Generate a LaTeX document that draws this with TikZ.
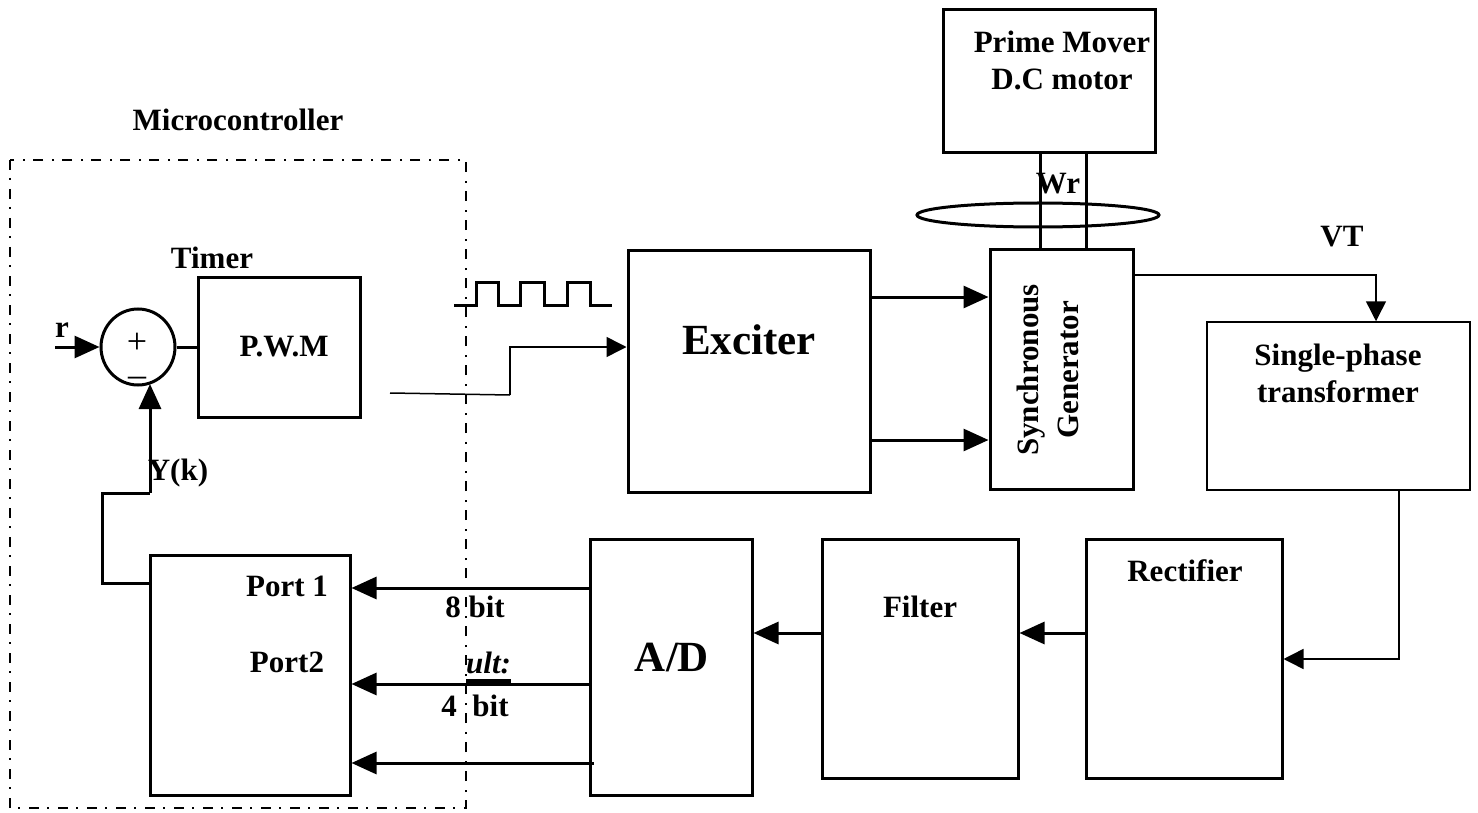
\documentclass[tikz,border=0pt]{standalone}
\usepackage{fontspec}
\setmainfont{Liberation Serif}
\usetikzlibrary{arrows.meta,calc,shapes.geometric}
\begin{document}
\begin{tikzpicture}[x=1pt,y=-1pt,
  blk/.style={draw,line width=3pt,inner sep=0pt},
  thinblk/.style={draw,line width=1.5pt,inner sep=0pt},
  lbl/.style={font=\fontsize{31}{37}\selectfont\bfseries,align=center,inner sep=0pt},
  big/.style={font=\fontsize{43}{48}\selectfont\bfseries,align=center,inner sep=0pt},
  arr/.style={line width=3pt,-{Triangle[length=25pt,width=22pt]}},
  tarr/.style={line width=1.5pt,-{Triangle[length=20pt,width=20pt]}},
  thk/.style={line width=3pt},
  thn/.style={line width=1.5pt},
  dashdotline/.style={line width=1.5pt,dash pattern=on 10pt off 8pt on 2pt off 9pt}]
\useasboundingbox (0,0) rectangle (1478,813);

% microcontroller border
\draw[dashdotline] (10,160) rectangle (466,808);
\node[lbl] (mctxt) at (238,120) {Microcontroller};

% blocks
\node[blk,ellipse,minimum width=74pt,minimum height=76pt] (sum) at (138,347) {};
\node[font=\fontsize{36}{33}\selectfont,align=center,inner sep=0pt] (signs) at (137,360) {+\\\textendash};
\node[blk,minimum width=162pt,minimum height=140pt] (pwm) at (279,347) {};
\node[lbl] (pwmt) at (284,347) {P.W.M};
\node[lbl] (timer) at (212,258) {Timer};
\node[blk,minimum width=200pt,minimum height=240pt] (port) at (250,675) {};
\node[lbl] (p1) at (287,586) {Port 1};
\node[lbl] (p2) at (287,662) {Port2};
\node[blk,minimum width=162pt,minimum height=256pt] (adc) at (671,667) {};
\node[big] (adct) at (672,658) {A/D};
\node[blk,minimum width=196pt,minimum height=239pt] (filt) at (920,658.5) {};
\node[lbl] (filtt) at (920,607) {Filter};
\node[blk,minimum width=196pt,minimum height=239pt] (rect) at (1184,658.5) {};
\node[lbl] (rectt) at (1185,571) {Rectifier};
\node[thinblk,minimum width=263pt,minimum height=168pt] (trans) at (1338.5,406) {};
\node[lbl] (transt) at (1338,373) {Single-phase\\transformer};
\node[blk,minimum width=143pt,minimum height=239pt] (gen) at (1061.5,369.5) {};
\node[lbl,rotate=90,font=\fontsize{31}{40}\selectfont\bfseries] (gent) at (1048,370) {Synchronous\\Generator};
\node[blk,minimum width=242pt,minimum height=241pt] (exc) at (749,371.5) {};
\node[big] (exct) at (749,340) {Exciter};
\node[blk,minimum width=212pt,minimum height=143pt] (pm) at (1049,81.5) {};
\node[lbl] (pmt) at (1062,60) {Prime Mover\\D.C motor};

% labels
\node[lbl] (rl) at (62,330) {r};
\node[lbl] (yk) at (178,473) {Y(k)};
\node[lbl] (vt) at (1342,237) {VT};
\node[lbl] (wr) at (1058,184) {Wr};
\node[lbl] (b8) at (475,607) {8 bit};
\node[lbl] (b4) at (475,706) {4\ \ bit};
\node[lbl,font=\fontsize{31}{37}\selectfont\bfseries\itshape,anchor=west] (ult) at (466,663) {ult:};
\draw[line width=5pt] (466,681) -- (511,681);

% coordinates
\coordinate (rin) at (55,347);
\coordinate (fb1) at (102,493);
\coordinate (fb2) at (150,493);
\coordinate (fb3) at (150,384);
\coordinate (pwmout) at (390,393);
\coordinate (step1) at (510,395);
\coordinate (ye1) at (0,297);
\coordinate (ye2) at (0,440);
\coordinate (vtx) at (1376,275);
\coordinate (tb) at (1399,659);
\coordinate (yf) at (0,633);
\coordinate (ya) at (0,588);
\coordinate (yb) at (0,684);
\coordinate (yc) at (0,763);
\coordinate (s1) at (1040,0);
\coordinate (s2) at (1086,0);
\coordinate (pwmin) at (0,347);

% connectors
\draw[arr] (rin) -- (sum.west);
\draw[thk] (sum.east) -- (pwm.west);
\draw[thk] ($(port.north west)+(0,30)$) -| (fb1) -- (fb2);
\draw[arr] (fb2) -- (fb3);
\draw[thn] (pwmout) -- (step1);
\draw[tarr] (step1) |- (exc.west |- pwmin);
\draw[arr] (exc.east |- ye1) -- (gen.west |- ye1);
\draw[arr] (exc.east |- ye2) -- (gen.west |- ye2);
\draw[tarr] (gen.east |- vtx) -| (trans.north -| vtx);
\draw[tarr] (trans.south -| tb) |- (rect.east |- tb);
\draw[arr] (rect.west |- yf) -- (filt.east |- yf);
\draw[arr] (filt.west |- yf) -- (adc.east |- yf);
\draw[arr] (adc.west |- ya) -- (port.east |- ya);
\draw[arr] (adc.west |- yb) -- (port.east |- yb);
\draw[arr] ($(adc.west |- yc)+(5,0)$) -- (port.east |- yc);
\draw[thk] (pm.south -| s1) -- (gen.north -| s1);
\draw[thk] (pm.south -| s2) -- (gen.north -| s2);
\draw[thk] (1038,215) ellipse [x radius=121, y radius=12];

% PWM square wave
\draw[thk] (454,305) -- (476,305) -- (476,282) -- (498,282) -- (498,305) -- (520,305) -- (520,282) -- (544,282) -- (544,305) -- (567,305) -- (567,282) -- (590,282) -- (590,305) -- (612,305);
\end{tikzpicture}
\end{document}
